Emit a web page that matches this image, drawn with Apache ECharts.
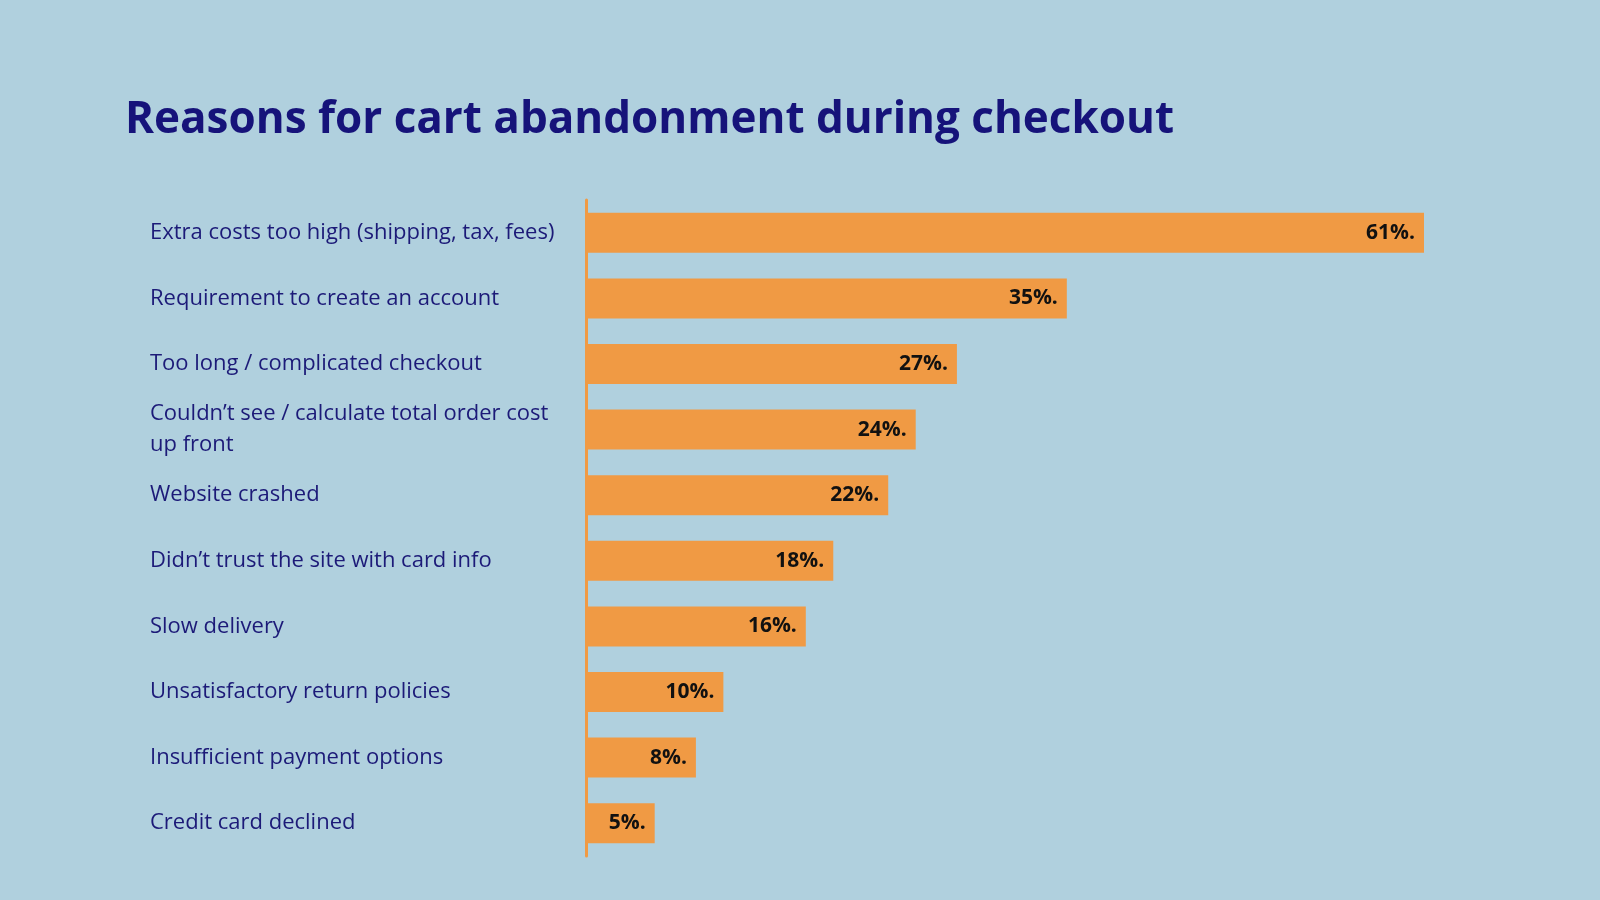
<!DOCTYPE html>
<html>
<head>
<meta charset="utf-8">
<script src="https://cdn.jsdelivr.net/npm/echarts@6/dist/echarts.min.js"></script>
<style>
html,body{margin:0;padding:0;background:#b0d0de;}
#chart{width:1600px;height:900px;}
</style>
</head>
<body>
<div id="chart"></div>
<script>
const categories = [
  "Extra costs too high (shipping, tax, fees)",
  "Requirement to create an account",
  "Too long / complicated checkout",
  "Couldn\u2019t see / calculate total order cost\nup front",
  "Website crashed",
  "Didn\u2019t trust the site with card info",
  "Slow delivery",
  "Unsatisfactory return policies",
  "Insufficient payment options",
  "Credit card declined"
];
const values = [61, 35, 27, 24, 22, 18, 16, 10, 8, 5];
const titleText = "Reasons for cart abandonment during checkout";

const chart = echarts.init(document.getElementById('chart'));
chart.setOption({
  backgroundColor: '#b0d0de',
  animation: false,
  title: {
    text: titleText,
    left: 120,
    top: 93,
    textStyle: {
      fontFamily: 'Open Sans',
      fontWeight: 'bold',
      fontSize: 44,
      color: '#16137a'
    }
  },
  grid: { left: 586, right: 176, top: 200, bottom: 44 },
  xAxis: {
    type: 'value',
    min: 0,
    max: 61,
    show: false
  },
  yAxis: {
    type: 'category',
    inverse: true,
    data: categories,
    axisLine: { show: true, lineStyle: { color: '#f09a44', width: 3 } },
    axisTick: { show: false },
    axisLabel: {
      align: 'left',
      margin: 436,
      fontFamily: 'Open Sans',
      fontSize: 22,
      lineHeight: 31,
      color: '#1c1a78'
    }
  },
  series: [{
    type: 'bar',
    data: values,
    barWidth: 40,
    itemStyle: { color: '#f09a44' },
    label: {
      show: true,
      position: 'insideRight',
      distance: 9,
      formatter: p => p.value + '%.',
      fontFamily: 'Open Sans',
      fontWeight: 'bold',
      fontSize: 21,
      color: '#111111'
    }
  }]
});
</script>
</body>
</html>
